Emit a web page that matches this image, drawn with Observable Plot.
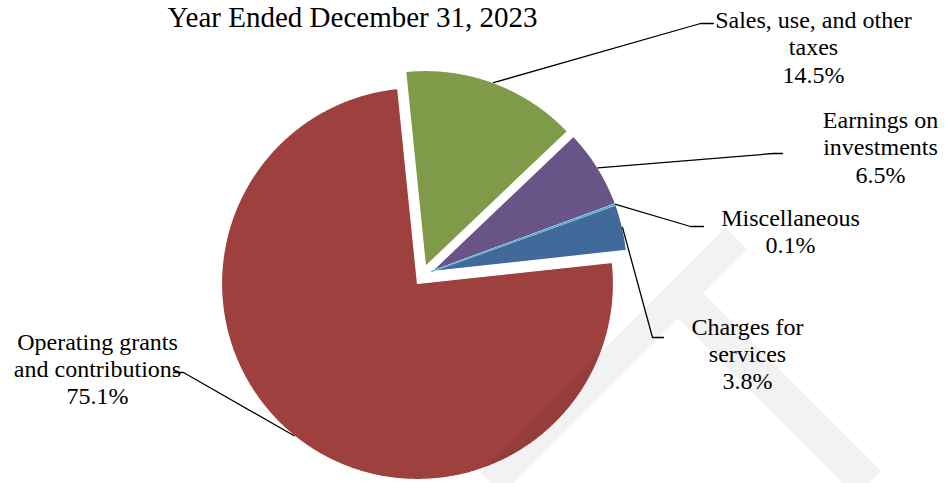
<!DOCTYPE html>
<html>
<head>
<meta charset="utf-8">
<script src="https://cdn.jsdelivr.net/npm/d3@7"></script>
<script src="https://cdn.jsdelivr.net/npm/@observablehq/plot@0.6"></script>
<style>
  html, body { margin: 0; padding: 0; background: #fff; overflow: hidden; }
  #chart svg { display: block; }
  #chart svg text { font-family: "Liberation Serif", "Times New Roman", serif !important; }
</style>
</head>
<body>
<div id="chart"></div>
<script>
// ---------------- DATA ----------------
const title = "Year Ended December 31, 2023";
const categories = [
  "Sales, use, and other taxes",
  "Earnings on investments",
  "Miscellaneous",
  "Charges for services",
  "Operating grants and contributions"
];
const shares = [14.5, 6.5, 0.1, 3.8, 75.1];
const labelLines = [
  ["Sales, use, and other", "taxes"],
  ["Earnings on", "investments"],
  ["Miscellaneous"],
  ["Charges for", "services"],
  ["Operating grants", "and contributions"]
];
const colors = ["#7F9A48", "#695487", "#4BACC6", "#416A9B", "#9E413E"];

// ---------------- LAYOUT ----------------
const W = 947, H = 483;
const R = 196;
const startDeg = -5.8;                 // first slice edge, clockwise from 12 o'clock
const apexes = [[425, 266], [431, 271], [431, 271], [431, 271], [417, 283]]; // exploded slice tips
const labelFont = 24, titleFont = 29, lineH = 1.14;
const labelLayout = [
  { x: 813, base: 25,    elbow: [700, 23],  end: [713, 23] },
  { x: 880, base: 125,   elbow: [773, 153], end: [782, 153] },
  { x: 790, base: 222.7, elbow: [690, 226], end: [703, 226] },
  { x: 747, base: 331.7, elbow: [652, 337], end: [663, 337] },
  { x: 97,  base: 346.7, elbow: [183, 372], end: [173, 372] }
];
const titlePos = { x: 352, base: 26.7 };
// faint diagonal watermark bands (decoration)
const watermark = [
  { band: "a", pts: [[736, 238], [491, 483]], w: 31 },
  { band: "b", pts: [[690.5, 305.5], [868, 483]], w: 36 }
];

// ---------------- GEOMETRY FROM DATA ----------------
const rad = d => d * Math.PI / 180;
const arcs = d3.pie().sort(null).value(d => d)
  .startAngle(rad(startDeg)).endAngle(rad(startDeg) + 2 * Math.PI)(shares);

const slicePts = [];
arcs.forEach((a, i) => {
  const [ax, ay] = apexes[i];
  const cat = categories[i];
  slicePts.push({ cat, x: ax, y: ay });
  const n = Math.max(2, Math.ceil((a.endAngle - a.startAngle) / 0.005));
  for (let k = 0; k <= n; k++) {
    const t = a.startAngle + (a.endAngle - a.startAngle) * k / n;
    slicePts.push({ cat, x: ax + R * Math.sin(t), y: ay - R * Math.cos(t) });
  }
  slicePts.push({ cat, x: ax, y: ay });
});
const miscPts = slicePts.filter(d => d.cat === categories[2]);

const leaderPts = [];
arcs.forEach((a, i) => {
  const [ax, ay] = apexes[i];
  const mid = (a.startAngle + a.endAngle) / 2;
  const L = labelLayout[i];
  const cat = categories[i];
  leaderPts.push({ cat, x: ax + R * Math.sin(mid), y: ay - R * Math.cos(mid) });
  leaderPts.push({ cat, x: L.elbow[0], y: L.elbow[1] });
  leaderPts.push({ cat, x: L.end[0], y: L.end[1] });
});

const labels = categories.map((c, i) => ({
  cat: c,
  text: labelLines[i].join("\n") + "\n" + shares[i].toFixed(1) + "%",
  x: labelLayout[i].x,
  y: labelLayout[i].base - 0.71 * labelFont
}));

const wmPts = watermark.flatMap(b => b.pts.map(p => ({ band: b.band, w: b.w, x: p[0], y: p[1] })));

const font = "Liberation Serif";

const chart = Plot.plot({
  width: W,
  height: H,
  margin: 0,
  x: { domain: [0, W], range: [0, W], axis: null },
  y: { domain: [0, H], range: [0, H], axis: null },
  color: { domain: categories, range: colors },
  style: { fontFamily: font, background: "#fff", overflow: "hidden" },
  marks: [
    Plot.line(slicePts, { x: "x", y: "y", z: "cat", fill: "cat", stroke: "#fff", strokeWidth: 1.2, strokeLinejoin: "miter" }),
    Plot.line(miscPts, { x: "x", y: "y", fill: colors[2], stroke: colors[2], strokeWidth: 0.8 }),
    Plot.line(wmPts.filter(d => d.band === "a"), { x: "x", y: "y", stroke: "#000", strokeOpacity: 0.052, strokeWidth: watermark[0].w, strokeLinecap: "butt" }),
    Plot.line(wmPts.filter(d => d.band === "b"), { x: "x", y: "y", stroke: "#000", strokeOpacity: 0.052, strokeWidth: watermark[1].w, strokeLinecap: "butt" }),
    Plot.line(leaderPts, { x: "x", y: "y", z: "cat", stroke: "#000", strokeWidth: 1.3 }),
    Plot.text(labels, { x: "x", y: "y", text: "text", fontSize: labelFont, lineHeight: lineH, lineAnchor: "top", textAnchor: "middle", fill: "#000" }),
    Plot.text([title], { x: () => titlePos.x, y: () => titlePos.base - 0.71 * titleFont, text: d => d, fontSize: titleFont, lineAnchor: "top", textAnchor: "middle", fill: "#000" })
  ]
});
document.getElementById("chart").appendChild(chart);
</script>
</body>
</html>
